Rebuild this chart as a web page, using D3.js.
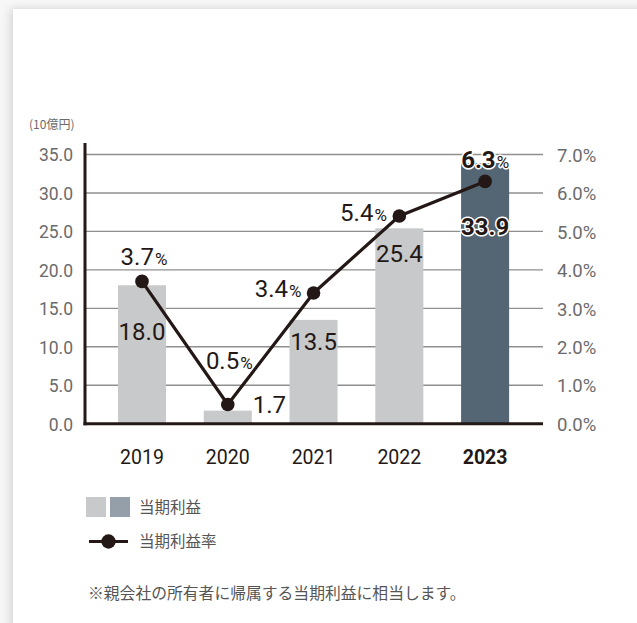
<!DOCTYPE html>
<html>
<head>
<meta charset="utf-8">
<script src="https://cdn.jsdelivr.net/npm/d3@7/dist/d3.min.js"></script>
<style>
  html, body { margin: 0; padding: 0; width: 637px; height: 623px; overflow: hidden; background: #f7f7f7; }
  #card { position: absolute; left: 13px; top: 9px; right: -20px; bottom: -20px; background: #fff;
          box-shadow: -4px 0 9px rgba(0,0,0,0.10), 0 -2px 6px rgba(0,0,0,0.04); }
  svg { position: absolute; left: 0; top: 0; }
</style>
</head>
<body>
<div id="card"></div>
<svg id="chart" width="637" height="623"></svg>
<script>
// ---- data ----
const years = ["2019", "2020", "2021", "2022", "2023"];
const profit = [18.0, 1.7, 13.5, 25.4, 33.9];        // 当期利益 (10億円)
const profitRate = [3.7, 0.5, 3.4, 5.4, 6.3];       // 当期利益率 (%)
const leftTicks = [0, 5, 10, 15, 20, 25, 30, 35];
const rightTicks = [0, 1, 2, 3, 4, 5, 6, 7];
const unitLabel = "(10億円)";
const legendBar = "当期利益";
const legendLine = "当期利益率";
const footnote = "※親会社の所有者に帰属する当期利益に相当します。";

// ---- layout (styles/positions) ----
const plotLeft = 85, plotRight = 543, plotTop = 154.5, plotBottom = 423.7;
const ink = "#231815";
const numFont = "Roboto, 'DejaVu Sans', sans-serif";
const jpFont = "'Noto Sans CJK JP', 'Noto Sans', sans-serif";
const highlight = "2023";

const svg = d3.select("#chart");

const x = d3.scaleBand().domain(years).range([99.1, 528]).paddingInner(0.44).paddingOuter(0.22);
const y = d3.scaleLinear().domain([0, 35]).range([plotBottom, plotTop]);
const yR = d3.scaleLinear().domain([0, 7]).range([plotBottom, plotTop]);
const cx = d => x(d) + x.bandwidth() / 2;

// gridlines
svg.append("g").selectAll("line").data(leftTicks.filter(t => t > 0)).join("line")
  .attr("x1", plotLeft).attr("x2", plotRight)
  .attr("y1", d => y(d)).attr("y2", d => y(d))
  .attr("stroke", "#8f8f8f").attr("stroke-width", 1.4);

// left axis labels
const axL = svg.append("g").attr("transform", `translate(${plotLeft},0)`)
  .call(d3.axisLeft(y).tickValues(leftTicks).tickFormat(d3.format(".1f")).tickSize(0).tickPadding(12));
axL.select(".domain").remove();
axL.selectAll("text").attr("font-family", numFont).attr("font-size", 17.5).attr("fill", "#6b6b6b")
  .attr("dy", "0.36em");

// right axis labels
const axR = svg.append("g").attr("transform", `translate(${plotRight},0)`)
  .call(d3.axisRight(yR).tickValues(rightTicks).tickFormat(d => d3.format(".1f")(d) + "%").tickSize(0).tickPadding(14));
axR.select(".domain").remove();
axR.selectAll("text").attr("font-family", numFont).attr("font-size", 18.5).attr("fill", "#6b6b6b")
  .attr("dy", "0.36em");

// unit label
svg.append("text").attr("x", 29).attr("y", 128.5).text(unitLabel)
  .attr("font-family", jpFont).attr("font-size", 12).attr("fill", "#6b6b6b");

// bars
svg.append("g").selectAll("rect").data(years).join("rect")
  .attr("x", d => x(d)).attr("width", x.bandwidth())
  .attr("y", (d, i) => y(profit[i])).attr("height", (d, i) => plotBottom - y(profit[i]))
  .attr("fill", d => d === highlight ? "#546574" : "#c8c9ca");

// baseline & left axis line
svg.append("line").attr("x1", plotLeft - 1.5).attr("x2", plotRight).attr("y1", plotBottom).attr("y2", plotBottom)
  .attr("stroke", ink).attr("stroke-width", 3);
svg.append("line").attr("x1", plotLeft).attr("x2", plotLeft).attr("y1", 143).attr("y2", plotBottom + 1.5)
  .attr("stroke", ink).attr("stroke-width", 3);

// x-axis labels
svg.append("g").selectAll("text").data(years).join("text")
  .attr("x", d => cx(d)).attr("y", 464).attr("text-anchor", "middle")
  .attr("font-family", numFont).attr("font-size", 19.5)
  .attr("font-weight", d => d === highlight ? 700 : 400)
  .attr("fill", ink).text(d => d);

// line
const line = d3.line().x((d, i) => cx(years[i])).y(d => yR(d));
svg.append("path").datum(profitRate).attr("d", line)
  .attr("fill", "none").attr("stroke", ink).attr("stroke-width", 3.2).attr("stroke-linejoin", "round");
svg.append("g").selectAll("circle").data(profitRate).join("circle")
  .attr("cx", (d, i) => cx(years[i])).attr("cy", d => yR(d)).attr("r", 6.8).attr("fill", ink);

// value labels (bars)
const valPlace = [
  { dx: 0, dy: 54.7, anchor: "middle" },
  { dx: x.bandwidth() / 2 + 1, dy: 2.7, anchor: "start" },
  { dx: 0, dy: 30, anchor: "middle" },
  { dx: 0, dy: 33.4, anchor: "middle" },
  { dx: 0, dy: 72, anchor: "middle" }
];
svg.append("g").selectAll("text").data(profit).join("text")
  .attr("x", (d, i) => cx(years[i]) + valPlace[i].dx)
  .attr("y", (d, i) => y(d) + valPlace[i].dy)
  .attr("text-anchor", (d, i) => valPlace[i].anchor)
  .attr("font-family", numFont).attr("font-size", 24)
  .attr("font-weight", (d, i) => years[i] === highlight ? 700 : 400)
  .attr("fill", ink)
  .attr("stroke", (d, i) => years[i] === highlight ? "#fff" : "none")
  .attr("stroke-width", 3).attr("paint-order", "stroke").attr("stroke-linejoin", "round")
  .text(d => d3.format(".1f")(d));

// rate labels (line)
const ratePlace = [
  { dx: 2, dy: -16, anchor: "middle" },
  { dx: 1.5, dy: -35, anchor: "middle" },
  { dx: -12, dy: 3.7, anchor: "end" },
  { dx: -12.5, dy: 4.7, anchor: "end" },
  { dx: 0, dy: -13, anchor: "middle" }
];
const rl = svg.append("g").selectAll("text").data(profitRate).join("text")
  .attr("x", (d, i) => cx(years[i]) + ratePlace[i].dx)
  .attr("y", 0)
  .attr("transform", (d, i) => `translate(0,${yR(d) + ratePlace[i].dy})`)
  .attr("text-anchor", (d, i) => ratePlace[i].anchor)
  .attr("font-family", numFont)
  .attr("font-weight", (d, i) => years[i] === highlight ? 700 : 400)
  .attr("fill", ink)
  .attr("stroke", (d, i) => years[i] === highlight ? "#fff" : "none")
  .attr("stroke-width", 3).attr("paint-order", "stroke").attr("stroke-linejoin", "round");
rl.append("tspan").attr("font-size", 24).text(d => d3.format(".1f")(d));
rl.append("tspan").attr("font-size", 17).attr("font-weight", 400).attr("dx", 1).text("%");

// legend
const lg = svg.append("g");
lg.append("rect").attr("x", 86).attr("y", 497).attr("width", 20).attr("height", 20).attr("fill", "#c8c9ca");
lg.append("rect").attr("x", 110).attr("y", 497).attr("width", 20).attr("height", 20).attr("fill", "#959fa9");
lg.append("text").attr("x", 139).attr("y", 513).text(legendBar)
  .attr("font-family", jpFont).attr("font-size", 15.5).attr("fill", "#555");
lg.append("line").attr("x1", 89).attr("x2", 128).attr("y1", 541.5).attr("y2", 541.5)
  .attr("stroke", ink).attr("stroke-width", 3);
lg.append("circle").attr("cx", 108.5).attr("cy", 541.5).attr("r", 7.2).attr("fill", ink);
lg.append("text").attr("x", 139).attr("y", 547).text(legendLine)
  .attr("font-family", jpFont).attr("font-size", 15.5).attr("fill", "#555");

// footnote
svg.append("text").attr("x", 88).attr("y", 599).text(footnote)
  .attr("font-family", jpFont).attr("font-size", 15.8).attr("fill", "#555");
</script>
</body>
</html>
